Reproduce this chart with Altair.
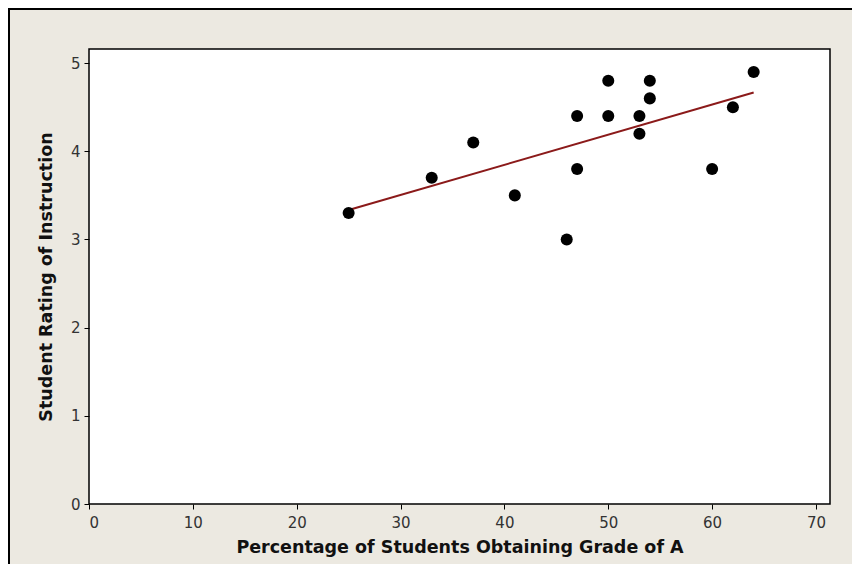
import altair as alt
import pandas as pd

# Data
pct_grade_a = [25, 33, 37, 41, 46, 47, 47, 50, 50, 53, 53, 54, 54, 60, 62, 64]
rating = [3.3, 3.7, 4.1, 3.5, 3.0, 4.4, 3.8, 4.8, 4.4, 4.4, 4.2, 4.8, 4.6, 3.8, 4.5, 4.9]
x_ticks = [0, 10, 20, 30, 40, 50, 60, 70]
y_ticks = [0, 1, 2, 3, 4, 5]

df = pd.DataFrame({"pct": pct_grade_a, "rating": rating})

FONT = "DejaVu Sans"
BG = "#ECE9E1"

x_enc = alt.X(
    "pct:Q",
    scale=alt.Scale(domain=[0, 71.35], nice=False, zero=False),
    axis=alt.Axis(values=x_ticks, title="Percentage of Students Obtaining Grade of A",
                  titlePadding=8, labelPadding=6),
)
y_enc = alt.Y(
    "rating:Q",
    scale=alt.Scale(domain=[0, 5.16], nice=False, zero=False),
    axis=alt.Axis(values=y_ticks, title="Student Rating of Instruction",
                  titlePadding=15, labelPadding=4),
)

base = alt.Chart(df)

points = base.mark_circle(size=145, color="black", opacity=1).encode(x=x_enc, y=y_enc)

fit = base.transform_regression("pct", "rating").mark_line(
    color="#8B1A1A", strokeWidth=2
).encode(x=x_enc, y=y_enc)

frame = alt.Chart(pd.DataFrame({"a": [0]})).mark_rect(
    fill=None, stroke="black", strokeWidth=2
).encode(
    x=alt.value(-80), x2=alt.value(900), y=alt.value(-40), y2=alt.value(900)
)

chart = alt.layer(frame, fit, points).properties(
    width=741,
    height=455,
    autosize=alt.AutoSizeParams(type="none"),
    padding={"left": 81, "top": 41, "right": 22, "bottom": 60},
    background=BG,
).configure_view(
    fill="white", stroke="black", strokeWidth=1.5
).configure_axis(
    domain=False,
    grid=False,
    tickColor="black",
    tickSize=5,
    labelFont=FONT,
    labelFontSize=15,
    labelColor="#333333",
    titleFont=FONT,
    titleFontSize=17.5,
    titleFontWeight="bold",
    titleColor="#111111",
)

chart.save("out.html", embed_options={"renderer": "svg", "actions": False})
